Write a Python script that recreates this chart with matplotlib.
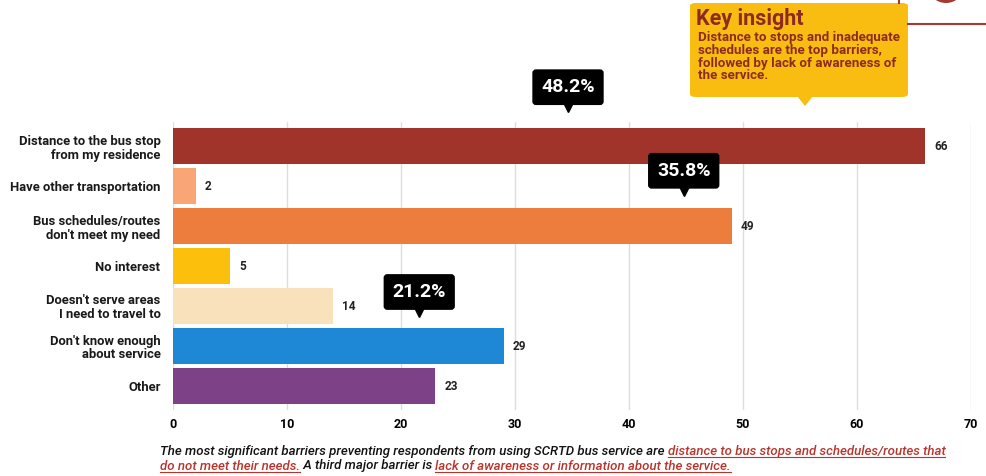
import matplotlib.pyplot as plt
from matplotlib.patches import FancyBboxPatch, Polygon, Ellipse
from matplotlib.lines import Line2D

plt.rcParams['font.family'] = ['Roboto', 'DejaVu Sans']

# Survey responses: reasons for not using the bus
categories = [
    "Distance to the bus stop\nfrom my residence",
    "Have other transportation",
    "Bus schedules/routes\ndon't meet my need",
    "No interest",
    "Doesn't serve areas\nI need to travel to",
    "Don't know enough\nabout service",
    "Other",
]
counts = [66, 2, 49, 5, 14, 29, 23]
bar_colors = ["#a1342a", "#f9a575", "#ec7d3c", "#fbbf0c", "#f8e1bb", "#1f88d6", "#7c4186"]

# percentage callouts: (label, x position, y position of box center)
callouts = [("48.2%", 34.65, -1.47), ("35.8%", 44.8, 0.62), ("21.2%", 21.6, 3.65)]

insight_title = "Key insight"
insight_text = ("Distance to stops and inadequate\nschedules are the top barriers,\n"
                "followed by lack of awareness of\nthe service.")

caption_lines = [
    [("The most significant barriers preventing respondents from using SCRTD bus service are ", False),
     ("distance to bus stops and schedules/routes that", True)],
    [("do not meet their needs.", True),
     (" A third major barrier is ", False),
     ("lack of awareness or information about the service.", True)],
]

W, H = 987, 476
fig = plt.figure(figsize=(W / 100, H / 100), dpi=100)
ax = fig.add_axes([173 / W, 1 - 410 / H, (971 - 173) / W, (410 - 122) / H])

y = list(range(len(categories)))
ax.barh(y, counts, height=0.9, color=bar_colors, zorder=2)
for yi, c in zip(y, counts):
    ax.text(c + 0.8, yi, str(c), va='center', ha='left', fontsize=8.5, fontweight='bold', color='#222222')

ax.set_xlim(0, 70)
ax.set_ylim(len(categories) - 0.4, -0.6)
ax.set_xticks(range(0, 71, 10))
ax.set_yticks(y)
ax.set_yticklabels(categories, fontsize=9.4, fontweight='bold', color='#1a1a1a', linespacing=1.1)
ax.tick_params(axis='both', length=0, pad=9)
ax.tick_params(axis='x', labelsize=9, pad=6)
for lbl in ax.get_xticklabels():
    lbl.set_fontweight('bold')
ax.grid(axis='x', color='#dddddd', linewidth=1, zorder=0)
for s in ax.spines.values():
    s.set_visible(False)

# black percentage boxes with a small pointer underneath
for txt, cx, cy in callouts:
    ax.text(cx, cy, txt, ha='center', va='center', fontsize=14, fontweight='bold', color='white',
            zorder=6, clip_on=False,
            bbox=dict(boxstyle='round,pad=0.42,rounding_size=0.15', fc='black', ec='black'))
    ax.plot(cx, cy + 0.5, marker='v', markersize=7, color='black', zorder=5, clip_on=False)

# key insight box (figure pixel coords converted to fractions)
def fx(px):
    return px / W


def fy(py):
    return 1 - py / H


box_col = "#f9bd12"
dark_red = "#8e2b20"
fig.patches.append(FancyBboxPatch((fx(690), fy(97)), fx(908) - fx(690), fy(3) - fy(97),
                                  boxstyle='round,pad=0,rounding_size=0.006',
                                  transform=fig.transFigure, fc=box_col, ec='none'))
fig.patches.append(Polygon([(fx(797), fy(96)), (fx(813), fy(96)), (fx(805), fy(106))],
                           closed=True, transform=fig.transFigure, fc=box_col, ec='none'))
fig.text(fx(696), fy(19), insight_title, fontsize=15.5, fontweight='bold', color=dark_red, va='center')
fig.text(fx(698), fy(31), insight_text, fontsize=9.6, fontweight='bold', color=dark_red,
         va='top', linespacing=0.98)

# red connector line and circle at top right
fig.lines.append(Line2D([fx(908), fx(987)], [fy(24), fy(24)], transform=fig.transFigure,
                        color="#a33a33", linewidth=1.5))
fig.lines.append(Line2D([fx(899), fx(899)], [fy(0), fy(3)], transform=fig.transFigure,
                        color="#a33a33", linewidth=1.5))
fig.patches.append(Ellipse((fx(946), fy(-12)), fx(34), 30 / H, transform=fig.transFigure,
                           fc="#a33a33", ec='none'))

# caption with red underlined highlights
renderer = fig.canvas.get_renderer()
red = "#b8352c"
for line_no, segments in enumerate(caption_lines):
    x_px = 160
    base_py = 455 + line_no * 14.5
    for seg, highlight in segments:
        t = fig.text(fx(x_px), fy(base_py), seg, fontsize=9.5, style='italic', fontweight='medium',
                     color=red if highlight else '#111111', va='baseline', ha='left')
        bb = t.get_window_extent(renderer)
        if highlight:
            fig.lines.append(Line2D([bb.x0 / W, bb.x1 / W], [fy(base_py + 2), fy(base_py + 2)],
                                    transform=fig.transFigure, color=red, linewidth=0.8))
        x_px = bb.x1

fig.savefig("out.png", dpi=100)
